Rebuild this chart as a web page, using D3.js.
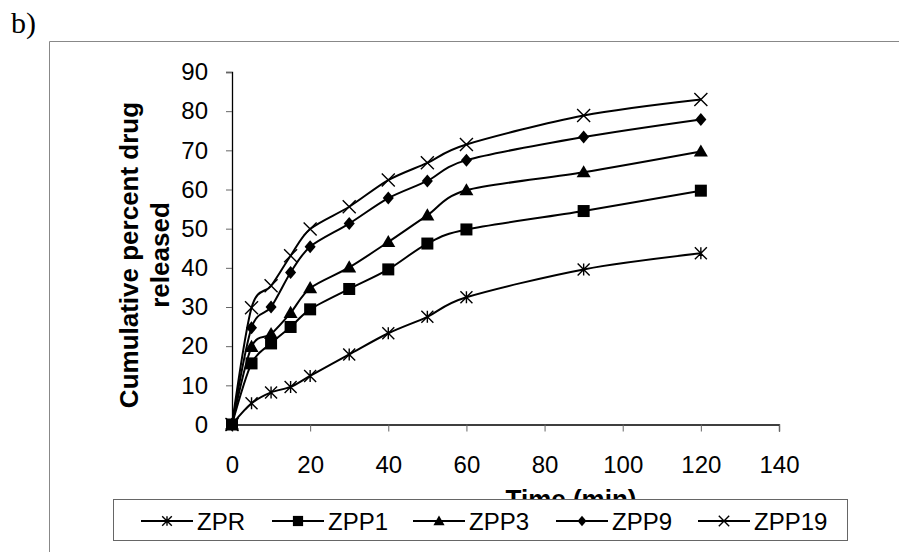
<!DOCTYPE html>
<html>
<head>
<meta charset="utf-8">
<script src="https://cdn.jsdelivr.net/npm/d3@7"></script>
<style>
  body { margin: 0; background: #fff; }
  svg text { font-family: Arial, "Liberation Sans", sans-serif; }
</style>
</head>
<body>
<div id="chart"></div>
<script>
// data
var times = [0, 5, 10, 15, 20, 30, 40, 50, 60, 90, 120];
var zpr   = [0, 5.4, 8.2, 9.6, 12.4, 17.9, 23.3, 27.5, 32.5, 39.6, 43.7];
var zpp1  = [0, 15.6, 20.7, 24.9, 29.4, 34.6, 39.6, 46.2, 49.8, 54.5, 59.7];
var zpp3  = [0, 19.8, 23.1, 28.5, 34.8, 40.1, 46.6, 53.4, 59.8, 64.4, 69.7];
var zpp9  = [0, 24.7, 30.0, 38.8, 45.4, 51.3, 57.8, 62.2, 67.5, 73.4, 77.9];
var zpp19 = [0, 29.8, 35.4, 43.1, 49.9, 55.6, 62.4, 66.8, 71.5, 78.9, 83.0];
var seriesNames = ["ZPR", "ZPP1", "ZPP3", "ZPP9", "ZPP19"];
var seriesMarkers = ["asterisk", "square", "triangle", "diamond", "cross"];
var xTicks = [0, 20, 40, 60, 80, 100, 120, 140];
var yTicks = [0, 10, 20, 30, 40, 50, 60, 70, 80, 90];

var series = [zpr, zpp1, zpp3, zpp9, zpp19].map(function(vals, i) {
  return {name: seriesNames[i], marker: seriesMarkers[i],
          values: vals.map(function(v, j) { return {t: times[j], v: v}; })};
});

var W = 899, H = 552;
var svg = d3.select("#chart").append("svg")
    .attr("width", W)
    .attr("height", H);

// label and outer frame
svg.append("text")
    .attr("x", 11).attr("y", 33)
    .style("font-family", "'Liberation Serif', 'DejaVu Serif', serif")
    .style("font-size", "30px")
    .text("b)");

svg.append("path")
    .attr("d", "M49.5," + H + "V41.5H" + W)
    .attr("fill", "none")
    .attr("stroke", "#888")
    .attr("stroke-width", 1);

// scales
var x = d3.scaleLinear().domain([0, 140]).range([232, 779]);
var y = d3.scaleLinear().domain([0, 90]).range([424.5, 72]);

// axes
var xAxis = svg.append("g")
    .attr("transform", "translate(0," + y(0) + ")")
    .call(d3.axisBottom(x).tickValues(xTicks).tickSize(7).tickPadding(24));
var yAxis = svg.append("g")
    .attr("transform", "translate(" + x(0) + ",0)")
    .call(d3.axisLeft(y).tickValues(yTicks).tickSize(6).tickPadding(18));

[xAxis, yAxis].forEach(function(g) {
  g.select(".domain").attr("stroke", "#000").attr("stroke-width", 1.3);
  g.selectAll(".tick line").attr("stroke", "#666");
  g.selectAll(".tick text")
    .style("font-size", "24px")
    .attr("fill", "#000");
});
xAxis.selectAll(".tick line").attr("stroke", function(d) { return d === 0 ? "none" : "#666"; });

// axis titles
svg.append("text")
    .attr("x", 571).attr("y", 508)
    .attr("text-anchor", "middle")
    .style("font-size", "26px")
    .style("font-weight", "bold")
    .text("Time (min)");

var yTitle = svg.append("text")
    .attr("transform", "translate(138,255) rotate(-90)")
    .attr("text-anchor", "middle")
    .style("font-size", "26px")
    .style("font-weight", "bold");
yTitle.append("tspan").attr("x", 0).attr("dy", 0).text("Cumulative percent drug");
yTitle.append("tspan").attr("x", 0).attr("dy", 31).text("released");

// lines
var line = d3.line()
    .x(function(d) { return x(d.t); })
    .y(function(d) { return y(d.v); })
    .curve(d3.curveCardinal.tension(0.1));

var plot = svg.append("g");

function drawMarker(g, type, cx, cy, k) {
  k = k || 1;
  if (type === "square") {
    g.append("rect").attr("x", cx - 6 * k).attr("y", cy - 6 * k)
      .attr("width", 12 * k).attr("height", 12 * k).attr("fill", "#000");
  } else if (type === "triangle") {
    g.append("path")
      .attr("d", d3.symbol().type(d3.symbolTriangle).size(85 * k * k)())
      .attr("transform", "translate(" + cx + "," + (cy + 1) + ")")
      .attr("fill", "#000");
  } else if (type === "diamond") {
    var r = 6.5 * k;
    g.append("path")
      .attr("d", "M" + cx + "," + (cy - r) + "L" + (cx + r * 0.85) + "," + cy +
                 "L" + cx + "," + (cy + r) + "L" + (cx - r * 0.85) + "," + cy + "Z")
      .attr("fill", "#000");
  } else if (type === "cross") {
    var c = 6.5 * k;
    g.append("path")
      .attr("d", "M" + (cx - c) + "," + (cy - c) + "L" + (cx + c) + "," + (cy + c) +
                 "M" + (cx - c) + "," + (cy + c) + "L" + (cx + c) + "," + (cy - c))
      .attr("stroke", "#000").attr("stroke-width", 1.4).attr("fill", "none");
  } else if (type === "asterisk") {
    var a = 6 * k;
    g.append("path")
      .attr("d", "M" + (cx - a) + "," + (cy - a) + "L" + (cx + a) + "," + (cy + a) +
                 "M" + (cx - a) + "," + (cy + a) + "L" + (cx + a) + "," + (cy - a) +
                 "M" + cx + "," + (cy - a) + "L" + cx + "," + (cy + a))
      .attr("stroke", "#000").attr("stroke-width", 1.4).attr("fill", "none");
  }
}

series.forEach(function(s) {
  plot.append("path")
      .datum(s.values)
      .attr("d", line)
      .attr("fill", "none")
      .attr("stroke", "#000")
      .attr("stroke-width", 2);
});
series.forEach(function(s) {
  var mg = plot.append("g");
  s.values.forEach(function(d) {
    drawMarker(mg, s.marker, x(d.t), y(d.v));
  });
});

// legend
var legend = svg.append("g");
legend.append("rect")
    .attr("x", 113.5).attr("y", 499.5)
    .attr("width", 734).attr("height", 41)
    .attr("fill", "#fff")
    .attr("stroke", "#666")
    .attr("stroke-width", 1);

var legendX = [141, 272, 413, 556, 698];
series.forEach(function(s, i) {
  var lx = legendX[i], ly = 521;
  var item = legend.append("g");
  item.append("line")
      .attr("x1", lx).attr("x2", lx + 52)
      .attr("y1", ly).attr("y2", ly)
      .attr("stroke", "#000").attr("stroke-width", 2);
  drawMarker(item, s.marker, lx + 26, ly, s.marker === "square" ? 0.85 : 0.8);
  item.append("text")
      .attr("x", lx + 56).attr("y", ly + 8.5)
      .style("font-size", "24px")
      .text(s.name);
});
</script>
</body>
</html>
